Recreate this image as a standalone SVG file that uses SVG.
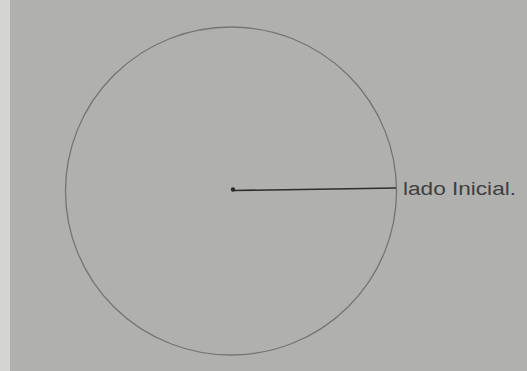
<svg xmlns="http://www.w3.org/2000/svg" width="527" height="371" viewBox="0 0 527 371">
<style>
.paper{fill:#b0b0ae}
.edge{fill:#d4d4d2}
.circ{fill:none;stroke:#747472;stroke-width:1.3}
.ray{stroke:#2e2e2e;stroke-width:1.6;fill:none}
.lbl{font-family:"Liberation Sans",Arial,sans-serif;font-size:18px;fill:#404040}
</style>
<rect class="paper" x="0" y="0" width="527" height="371"/>
<rect class="edge" x="0" y="0" width="10" height="371"/>
<g id="circle">
<ellipse class="circ" cx="231" cy="191" rx="165.5" ry="164"/>
</g>
<g id="center">
<circle cx="233" cy="189.5" r="2.2" fill="#2a2a2a"/>
</g>
<g id="connectors">
<path class="ray" d="M233 190.5 L396 188"/>
</g>
<g id="label">
<text class="lbl" x="403" y="195" textLength="113" lengthAdjust="spacingAndGlyphs">lado Inicial.</text>
</g>
</svg>
